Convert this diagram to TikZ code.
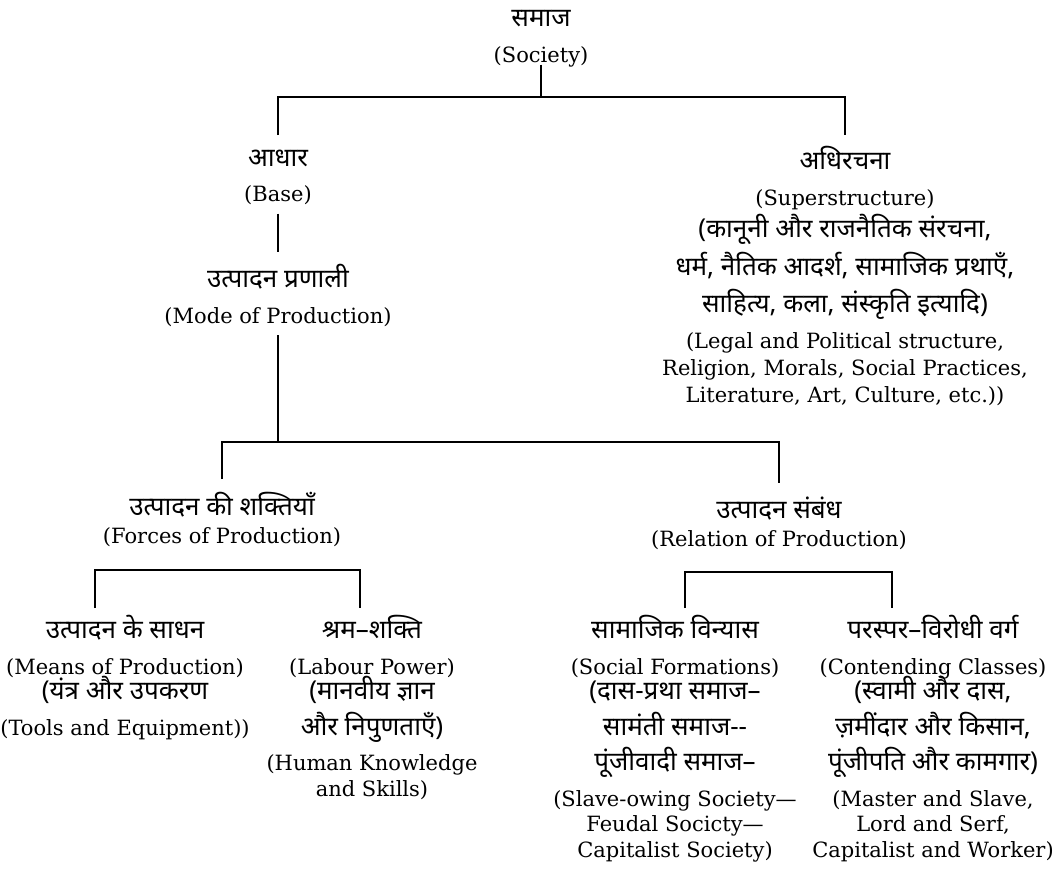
\documentclass[tikz,border=0pt]{standalone}
\usepackage{fontspec}
\setmainfont{DejaVu Serif}
\newfontfamily\hindifont[Script=Devanagari]{Noto Sans}
\usetikzlibrary{calc}
\newcommand{\hi}[1]{{\hindifont\fontsize{26}{25.5}\selectfont #1}}
\newcommand{\topstr}[1]{\rule{0pt}{#1}}
\newcommand{\bstrut}{\rule[-12pt]{0pt}{0pt}}
\tikzset{
  lbl/.style={align=center, inner sep=0pt, outer sep=0pt,
    font={\fontsize{21}{25.5}\selectfont\lineskiplimit=-100pt},
    anchor=north},
  conn/.style={line width=1.8pt, black},
}
\begin{document}
\begin{tikzpicture}[x=1pt,y=-1pt]
\useasboundingbox (0,0) rectangle (1061,894);
\fill[white] (0,0) rectangle (1061,894);

\node[lbl] (soc) at (541,8) {\topstr{18pt}\hi{समाज}\\[11pt] (Society)\bstrut};
\node[lbl] (base) at (278,135) {\topstr{31pt}\hi{आधार}\\[10pt] (Base)\bstrut};
\node[lbl] (mode) at (278,252) {\topstr{35.5pt}\hi{उत्पादन प्रणाली}\\[10pt] (Mode of Production)\bstrut};
\node[lbl] (sup) at (845,135) {\topstr{34.5pt}\hi{अधिरचना}\\[10pt] (Superstructure)\\[7pt]
  \hi{(कानूनी और राजनैतिक संरचना,}\\[12pt]
  \hi{धर्म, नैतिक आदर्श, सामाजिक प्रथाएँ,}\\[12pt]
  \hi{साहित्य, कला, संस्कृति इत्यादि)}\\[10pt]
  (Legal and Political structure,\\[1.5pt]
  Religion, Morals, Social Practices,\\[1.5pt]
  Literature, Art, Culture, etc.))\bstrut};
\node[lbl] (forces) at (222,479) {\topstr{36.5pt}\hi{उत्पादन की शक्तियाँ}\\[2pt] (Forces of Production)\bstrut};
\node[lbl] (relation) at (779,483) {\topstr{35.5pt}\hi{उत्पादन संबंध}\\[2pt] (Relation of Production)\bstrut};

\node[lbl] (means) at (125,608) {\topstr{30.5pt}\hi{उत्पादन के साधन}\\[10pt] (Means of Production)\\
  \hi{(यंत्र और उपकरण}\\[10pt] (Tools and Equipment))\bstrut};
\node[lbl] (labour) at (372,608) {\topstr{30.5pt}\hi{श्रम–शक्ति}\\[10pt] (Labour Power)\\
  \hi{(मानवीय ज्ञान}\\[10pt] \hi{और निपुणताएँ)}\\[10pt] (Human Knowledge\\ and Skills)\bstrut};
\node[lbl] (social) at (675,608) {\topstr{30.5pt}\hi{सामाजिक विन्यास}\\[10pt] (Social Formations)\\
  \hi{(दास-प्रथा समाज–}\\[10pt] \hi{सामंती समाज-{}-}\\[10pt] \hi{पूंजीवादी समाज–}\\[10pt]
  (Slave-owing Society—\\ Feudal Socicty—\\ Capitalist Society)\bstrut};
\node[lbl] (contend) at (933,608) {\topstr{30.5pt}\hi{परस्पर–विरोधी वर्ग}\\[10pt] (Contending Classes)\\
  \hi{(स्वामी और दास,}\\[10pt] \hi{ज़मींदार और किसान,}\\[10pt] \hi{पूंजीपति और कामगार)}\\[10pt]
  (Master and Slave,\\ Lord and Serf,\\ Capitalist and Worker)\bstrut};

\coordinate (h1) at (541,97);
\coordinate (h2) at (278,442);

\draw[conn, shorten <=-10pt] (soc.south) -- (h1);
\draw[conn] (base.north) |- (h1) -| (sup.north);
\draw[conn] (base.south) -- (mode.north);
\draw[conn] (mode.south) -- (h2);
\draw[conn] (forces.north) |- (h2) -| (relation.north);
\draw[conn] ([xshift=-30pt]means.north) |- ([yshift=-15pt]forces.south) -| ([xshift=-12pt]labour.north);
\draw[conn] ([xshift=10pt]social.north) |- ([yshift=-14pt]relation.south) -| ([xshift=-41pt]contend.north);
\end{tikzpicture}
\end{document}
